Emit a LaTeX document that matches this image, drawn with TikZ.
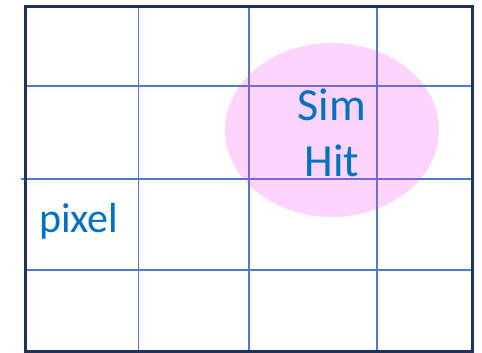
\documentclass[tikz,border=0pt]{standalone}
\usepackage{fontspec}
\setmainfont{Carlito}
\definecolor{frame}{RGB}{31,50,90}
\definecolor{gridc}{RGB}{80,120,205}
\definecolor{txtblue}{RGB}{0,112,192}
\definecolor{pinkfill}{RGB}{240,60,240}
\begin{document}
\begin{tikzpicture}[x=1pt,y=-1pt,
  gridline/.style={draw=gridc,line width=1.1pt},
  label/.style={text=txtblue,inner sep=0pt,align=center}]
\useasboundingbox (0,0) rectangle (482,353);
% grid
\draw[gridline] (138.5,6) -- (138.5,352);
\draw[gridline] (249,6) -- (249,352);
\draw[gridline] (377,6) -- (377,352);
\draw[gridline] (25,86) -- (473,86);
\draw[gridline] (21,179) -- (473,179);
\draw[gridline] (25,270) -- (473,270);
% outer frame
\draw[draw=frame,line width=2.2pt] (25.5,6.5) rectangle (472.5,351.5);
% sim hit ellipse
\fill[pinkfill,fill opacity=0.22] (332,130) ellipse [x radius=107pt,y radius=87pt];
\node[label,font=\fontsize{46}{56}\selectfont] (simhit) at (332,133) {Sim\\Hit};
\node[label,font=\fontsize{42}{50}\selectfont,anchor=base west] (pixel) at (39,232) {pixel};
\end{tikzpicture}
\end{document}
